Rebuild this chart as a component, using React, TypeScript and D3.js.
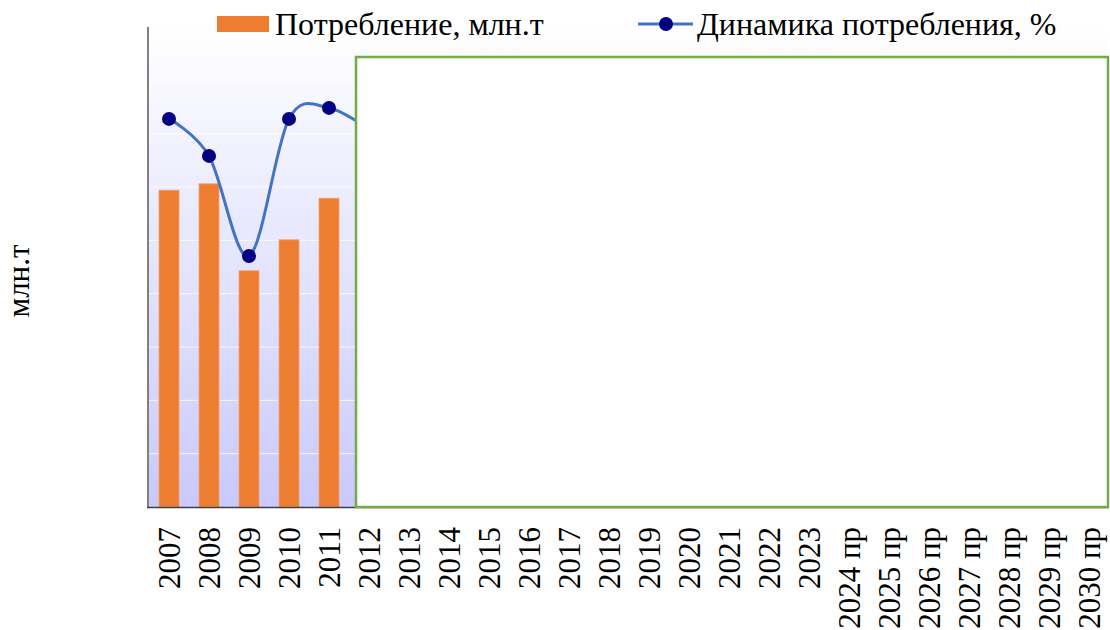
import React, { useRef, useEffect } from "react";
import * as d3 from "d3";

// categories along the x axis
const years = [
  "2007", "2008", "2009", "2010", "2011", "2012", "2013", "2014", "2015",
  "2016", "2017", "2018", "2019", "2020", "2021", "2022", "2023",
  "2024 пр", "2025 пр", "2026 пр", "2027 пр", "2028 пр", "2029 пр", "2030 пр",
];

// visible part of the data (the rest is covered by the box)
const consumptionYears = ["2007", "2008", "2009", "2010", "2011", "2012"];
const consumption = [59.4, 60.6, 44.3, 50.1, 57.9, 56.5];
const dynamics = [13.2, 2.4, -26.8, 13.2, 16.4, 10.0];

const W = 1110;
const H = 630;
const FONT = "serif";

const App = () => {
  const svgRef = useRef<SVGSVGElement>(null);

  useEffect(() => {
    const svg = d3.select(svgRef.current);
    svg.selectAll("*").remove();

    const margin = { top: 27, right: 1, bottom: 123, left: 149 };
    const innerBottom = H - margin.bottom;

    const x = d3
      .scaleBand()
      .domain(years)
      .range([margin.left, W - margin.right])
      .paddingInner(0.5)
      .paddingOuter(0.25);

    const y = d3.scaleLinear().domain([0, 90]).range([innerBottom, margin.top]);
    const y2 = d3.scaleLinear().domain([-100, 40]).range([innerBottom, margin.top]);

    // plot area background gradient
    const defs = svg.append("defs");
    const grad = defs
      .append("linearGradient")
      .attr("id", "bg")
      .attr("x1", 0)
      .attr("y1", 0)
      .attr("x2", 0)
      .attr("y2", 1);
    grad.append("stop").attr("offset", "0%").attr("stop-color", "#ffffff");
    grad.append("stop").attr("offset", "100%").attr("stop-color", "#c9c9fc");

    svg
      .append("rect")
      .attr("x", margin.left)
      .attr("y", margin.top)
      .attr("width", W - margin.right - margin.left)
      .attr("height", innerBottom - margin.top)
      .attr("fill", "url(#bg)");

    // gridlines
    svg
      .append("g")
      .selectAll("line")
      .data(y.ticks(9).slice(1))
      .join("line")
      .attr("x1", margin.left)
      .attr("x2", W - margin.right)
      .attr("y1", (d) => y(d))
      .attr("y2", (d) => y(d))
      .attr("stroke", "#ffffff")
      .attr("stroke-opacity", 0.8)
      .attr("stroke-width", 1);

    // bars
    svg
      .append("g")
      .selectAll("rect")
      .data(consumption)
      .join("rect")
      .attr("x", (d, i) => x(consumptionYears[i]))
      .attr("y", (d) => y(d))
      .attr("width", x.bandwidth())
      .attr("height", (d) => innerBottom - y(d))
      .attr("fill", "#ed7d31")
      .attr("stroke", "#f4a46c")
      .attr("stroke-width", 0.8);

    // smoothed line with markers
    const line = d3
      .line<number>()
      .x((d, i) => x(consumptionYears[i]) + x.bandwidth() / 2)
      .y((d) => y2(d))
      .curve(d3.curveCatmullRom.alpha(0));

    svg
      .append("path")
      .datum(dynamics)
      .attr("fill", "none")
      .attr("stroke", "#4472c4")
      .attr("stroke-width", 3)
      .attr("d", line);

    svg
      .append("g")
      .selectAll("circle")
      .data(dynamics)
      .join("circle")
      .attr("cx", (d, i) => x(consumptionYears[i]) + x.bandwidth() / 2)
      .attr("cy", (d) => y2(d))
      .attr("r", 7)
      .attr("fill", "#000080");

    // axes
    svg
      .append("line")
      .attr("x1", margin.left - 1)
      .attr("x2", margin.left - 1)
      .attr("y1", margin.top)
      .attr("y2", innerBottom)
      .attr("stroke", "#808080")
      .attr("stroke-width", 2);

    svg
      .append("line")
      .attr("x1", margin.left - 2)
      .attr("x2", W - margin.right)
      .attr("y1", innerBottom + 0.5)
      .attr("y2", innerBottom + 0.5)
      .attr("stroke", "#404040")
      .attr("stroke-width", 1.5);

    // x labels, rotated
    svg
      .append("g")
      .attr("font-family", FONT)
      .attr("font-size", 31)
      .attr("fill", "#000")
      .selectAll("text")
      .data(years)
      .join("text")
      .attr(
        "transform",
        (d) => `translate(${x(d) + x.bandwidth() / 2 + 11},${innerBottom + 20}) rotate(-90)`
      )
      .attr("text-anchor", "end")
      .text((d) => d);

    // y axis title
    svg
      .append("text")
      .attr("transform", `translate(29,281) rotate(-90)`)
      .attr("text-anchor", "middle")
      .attr("font-family", FONT)
      .attr("font-size", 31)
      .attr("fill", "#000")
      .text("млн.т");

    // covering box
    svg
      .append("rect")
      .attr("x", 356)
      .attr("y", 57)
      .attr("width", 752)
      .attr("height", 450)
      .attr("fill", "#ffffff")
      .attr("stroke", "#70ad47")
      .attr("stroke-width", 2.5);

    // legend
    const legend = svg
      .append("g")
      .attr("font-family", FONT)
      .attr("font-size", 32)
      .attr("fill", "#000");
    legend
      .append("rect")
      .attr("x", 217)
      .attr("y", 16)
      .attr("width", 52)
      .attr("height", 16)
      .attr("fill", "#ed7d31");
    legend
      .append("text")
      .attr("x", 275)
      .attr("y", 35)
      .text("Потребление, млн.т");
    legend
      .append("line")
      .attr("x1", 638)
      .attr("x2", 693)
      .attr("y1", 24)
      .attr("y2", 24)
      .attr("stroke", "#4472c4")
      .attr("stroke-width", 3);
    legend
      .append("circle")
      .attr("cx", 666)
      .attr("cy", 24)
      .attr("r", 7)
      .attr("fill", "#000080");
    legend
      .append("text")
      .attr("x", 697)
      .attr("y", 35)
      .text("Динамика потребления, %");
  }, []);

  return (
    <svg
      ref={svgRef}
      width={W}
      height={H}
      style={{ position: "absolute", left: 0, top: 0, display: "block", background: "#fff" }}
    ></svg>
  );
};

export default App;
